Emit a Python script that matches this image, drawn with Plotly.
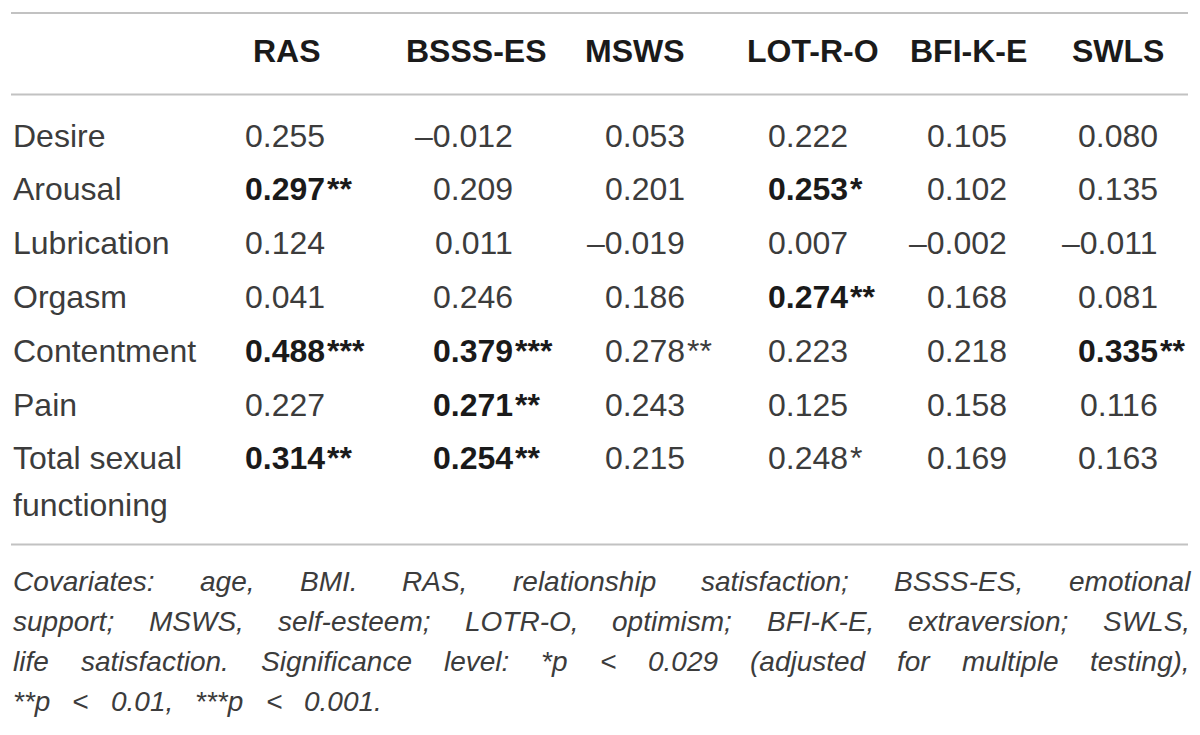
import plotly.graph_objects as go

# table content
columns = ["RAS", "BSSS-ES", "MSWS", "LOT-R-O", "BFI-K-E", "SWLS"]
rows = ["Desire", "Arousal", "Lubrication", "Orgasm", "Contentment", "Pain",
        "Total sexual\nfunctioning"]

ras = [0.255, 0.297, 0.124, 0.041, 0.488, 0.227, 0.314]
bsss_es = [-0.012, 0.209, 0.011, 0.246, 0.379, 0.271, 0.254]
msws = [0.053, 0.201, -0.019, 0.186, 0.278, 0.243, 0.215]
lot_r_o = [0.222, 0.253, 0.007, 0.274, 0.223, 0.125, 0.248]
bfi_k_e = [0.105, 0.102, -0.002, 0.168, 0.218, 0.158, 0.169]
swls = [0.080, 0.135, -0.011, 0.081, 0.335, 0.116, 0.163]

ras_stars = ["", "**", "", "", "***", "", "**"]
bsss_es_stars = ["", "", "", "", "***", "**", "**"]
msws_stars = ["", "", "", "", "**", "", ""]
lot_r_o_stars = ["", "*", "", "**", "", "", "*"]
bfi_k_e_stars = ["", "", "", "", "", "", ""]
swls_stars = ["", "", "", "", "**", "", ""]

ras_bold = [0, 1, 0, 0, 1, 0, 1]
bsss_es_bold = [0, 0, 0, 0, 1, 1, 1]
msws_bold = [0, 0, 0, 0, 0, 0, 0]
lot_r_o_bold = [0, 1, 0, 1, 0, 0, 0]
bfi_k_e_bold = [0, 0, 0, 0, 0, 0, 0]
swls_bold = [0, 0, 0, 0, 1, 0, 0]

footnote_lines = [
    "Covariates: age, BMI. RAS, relationship satisfaction; BSSS-ES, emotional",
    "support; MSWS, self-esteem; LOTR-O, optimism; BFI-K-E, extraversion; SWLS,",
    "life satisfaction. Significance level: *p < 0.029 (adjusted for multiple testing),",
    "**p < 0.01, ***p < 0.001.",
]

values = [ras, bsss_es, msws, lot_r_o, bfi_k_e, swls]
stars = [ras_stars, bsss_es_stars, msws_stars, lot_r_o_stars, bfi_k_e_stars, swls_stars]
bolds = [ras_bold, bsss_es_bold, msws_bold, lot_r_o_bold, bfi_k_e_bold, swls_bold]

FONT = "Liberation Sans, Arial, Helvetica, sans-serif"
FS = 32
FOOT_FS = 28
TXT = "#3c3c3c"
BOLD_TXT = "#1a1a1a"
RULE = "#c2c2c2"

left, right = 11, 1188
header_x = [287, 476, 635, 813, 968, 1118]
digit_end = [326, 514, 686, 849, 1008, 1159]
header_y = 51
row_y0, row_step, wrap_step = 135.5, 53.8, 47
foot_y0, foot_step = 581, 40
last_line_end = 380

# Arial / Liberation Sans advance widths (1/1000 em), italic shares them
W = dict(zip("abcdefghijklmnopqrstuvwxyz",
             [556, 556, 500, 556, 556, 278, 556, 556, 222, 222, 500, 222, 833,
              556, 556, 556, 556, 333, 500, 278, 556, 500, 722, 500, 500, 500]))
W.update(zip("ABCDEFGHIJKLMNOPQRSTUVWXYZ",
             [667, 667, 722, 722, 667, 611, 778, 722, 278, 500, 667, 556, 833,
              722, 778, 667, 778, 722, 667, 611, 722, 667, 944, 667, 667, 611]))
W.update({c: 556 for c in "0123456789"})
W.update({" ": 278, ":": 278, ",": 278, ".": 278, ";": 278, "-": 333,
          "(": 333, ")": 333, "*": 389, "<": 584})


def text_width(s, size):
    return sum(W.get(c, 556) for c in s) / 1000 * size


def esc(s):
    return s.replace("<", "&lt;")


fig = go.Figure()
fig.add_trace(go.Scatter(x=[0, 1200], y=[0, 735], mode="markers",
                         marker=dict(opacity=0), hoverinfo="skip", showlegend=False))

ann = []


def add(x, y, text, anchor="left", size=FS, color=TXT):
    ann.append(dict(x=x, y=y, xref="x", yref="y", text=text, showarrow=False,
                    xanchor=anchor, yanchor="middle", borderpad=0,
                    font=dict(family=FONT, size=size, color=color)))


# header
for cx, name in zip(header_x, columns):
    add(cx, header_y, f"<b>{name}</b>", anchor="center", color=BOLD_TXT)

# row labels and cells
for i, label in enumerate(rows):
    y = row_y0 + i * row_step
    for k, part in enumerate(label.split("\n")):
        add(left + 1, y + k * wrap_step, part)
    for j in range(len(columns)):
        v = values[j][i]
        num = ("\u2013" if v < 0 else "") + f"{abs(v):.3f}"
        st = stars[j][i]
        if bolds[j][i]:
            add(digit_end[j], y, f"<b>{num}</b>", anchor="right", color=BOLD_TXT)
            if st:
                add(digit_end[j], y, f"<b>{st}</b>", color=BOLD_TXT)
        else:
            add(digit_end[j], y, num, anchor="right")
            if st:
                add(digit_end[j], y, st)

# footnote, justified word by word
for n, line in enumerate(footnote_lines):
    words = line.split(" ")
    end = right if n < len(footnote_lines) - 1 else last_line_end
    widths = [text_width(w, FOOT_FS) for w in words]
    gap = (end - left - sum(widths)) / (len(words) - 1)
    x = left + 1
    y = foot_y0 + n * foot_step
    for w, wd in zip(words, widths):
        add(x, y, f"<i>{esc(w)}</i>", size=FOOT_FS)
        x += wd + gap

rules = [13, 94.5, 544.5]
shapes = [dict(type="line", xref="x", yref="y", x0=left, x1=right, y0=r, y1=r,
               line=dict(color=RULE, width=2)) for r in rules]

fig.update_layout(
    width=1200, height=735,
    margin=dict(l=0, r=0, t=0, b=0),
    paper_bgcolor="white", plot_bgcolor="white",
    xaxis=dict(range=[0, 1200], visible=False, fixedrange=True),
    yaxis=dict(range=[735, 0], visible=False, fixedrange=True),
    annotations=ann, shapes=shapes,
    showlegend=False,
)

fig.write_html("out.html", config={"displayModeBar": False},
               post_script="document.body.style.margin='0';")
